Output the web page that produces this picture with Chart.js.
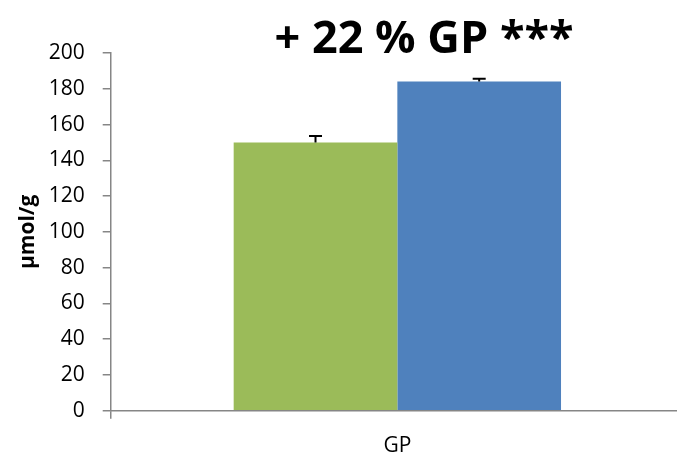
<!DOCTYPE html>
<html>
<head>
<meta charset="utf-8">
<script src="https://cdn.jsdelivr.net/npm/chart.js@4.4.1/dist/chart.umd.min.js"></script>
<style>
  html, body { margin: 0; padding: 0; background: #ffffff; overflow: hidden; }
  #c { display: block; }
</style>
</head>
<body>
<canvas id="c" width="677" height="454"></canvas>
<script>
// Glycogen phosphorylase content, two groups
const categories = ['GP'];
const controlValues = [150];
const controlErrors = [3.6];
const treatedValues = [184];
const treatedErrors = [1.6];
const yTicks = [0, 20, 40, 60, 80, 100, 120, 140, 160, 180, 200];
const headline = '+ 22 % GP ***';
const yTitle = 'µmol/g';

const FONT = '"Open Sans", sans-serif';
const AXIS_GREY = '#868686';

// The category axis runs on past the right edge of the canvas
const EXTEND_RIGHT = 7;
const extendAxisPlugin = {
  id: 'extendAxis',
  afterLayout(chart) {
    const x = chart.scales.x;
    x.right += EXTEND_RIGHT;
    x.width += EXTEND_RIGHT;
    chart.chartArea.right += EXTEND_RIGHT;
    chart.chartArea.width += EXTEND_RIGHT;
    x.configure();
  }
};

// Upward-only error bars, positioned through the chart's own scales
const errorBarPlugin = {
  id: 'errorBars',
  afterDatasetsDraw(chart) {
    const ctx = chart.ctx;
    const yScale = chart.scales.y;
    chart.data.datasets.forEach((ds, di) => {
      const meta = chart.getDatasetMeta(di);
      meta.data.forEach((bar, i) => {
        const top = yScale.getPixelForValue(ds.data[i] + ds.errors[i]);
        const base = yScale.getPixelForValue(ds.data[i]);
        ctx.save();
        ctx.strokeStyle = '#000000';
        ctx.lineWidth = 2;
        ctx.beginPath();
        ctx.moveTo(bar.x, base);
        ctx.lineTo(bar.x, top);
        ctx.moveTo(bar.x - 6.5, top);
        ctx.lineTo(bar.x + 6.5, top);
        ctx.stroke();
        ctx.restore();
      });
    });
  }
};

// Headline above the plot
const headlinePlugin = {
  id: 'headline',
  afterDraw(chart) {
    const ctx = chart.ctx;
    ctx.save();
    ctx.fillStyle = '#000000';
    ctx.font = 'bold 45px ' + FONT;
    ctx.textAlign = 'center';
    ctx.textBaseline = 'alphabetic';
    ctx.fillText(headline, 424, 53);
    ctx.restore();
  }
};

new Chart(document.getElementById('c'), {
  type: 'bar',
  data: {
    labels: categories,
    datasets: [
      { label: 'Control', data: controlValues, errors: controlErrors,
        backgroundColor: '#9BBB59', borderWidth: 0 },
      { label: 'Treated', data: treatedValues, errors: treatedErrors,
        backgroundColor: '#4F81BD', borderWidth: 0 }
    ]
  },
  options: {
    responsive: false,
    animation: false,
    layout: { padding: { top: 53, left: 0, right: 0, bottom: 0 } },
    plugins: {
      legend: { display: false },
      tooltip: { enabled: false },
      title: { display: false }
    },
    datasets: {
      bar: { barPercentage: 1.0, categoryPercentage: 0.571 }
    },
    scales: {
      x: {
        offset: true,
        afterFit(scale) { scale.height = 43.3; },
        grid: {
          display: true,
          drawOnChartArea: false,
          drawTicks: true,
          tickLength: 8,
          color: AXIS_GREY,
          lineWidth: 1.5,
          offset: true
        },
        border: { display: true, color: AXIS_GREY, width: 1.5 },
        ticks: {
          color: '#000000',
          font: { family: FONT, size: 21 },
          padding: 15
        }
      },
      y: {
        min: 0,
        max: 200,
        afterFit(scale) { scale.width = 110.7; },
        afterBuildTicks(scale) { scale.ticks = yTicks.map(v => ({ value: v })); },
        grid: {
          display: true,
          drawOnChartArea: false,
          drawTicks: true,
          tickLength: 8,
          color: AXIS_GREY,
          lineWidth: 1.5
        },
        border: { display: true, color: AXIS_GREY, width: 1.5 },
        ticks: {
          color: '#000000',
          font: { family: FONT, size: 21 },
          padding: 18
        },
        title: {
          display: true,
          text: yTitle,
          color: '#000000',
          font: { family: FONT, size: 21, weight: 'bold' },
          padding: { top: 15, bottom: 0 }
        }
      }
    }
  },
  plugins: [extendAxisPlugin, errorBarPlugin, headlinePlugin]
});
</script>
</body>
</html>
